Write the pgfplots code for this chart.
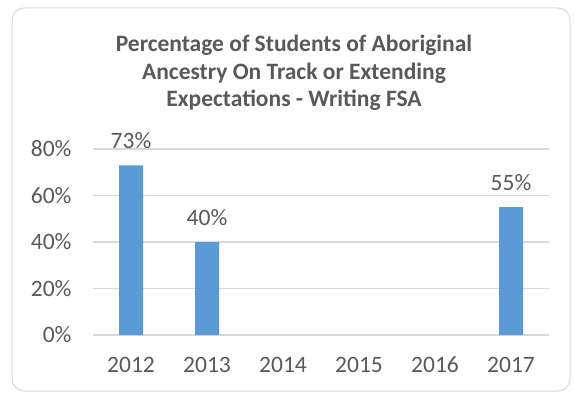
\documentclass[border=0pt]{standalone}
\usepackage{pgfplots}
\pgfplotsset{compat=1.18}
\usepackage{fontspec}
\setmainfont{Carlito}
\definecolor{barblue}{HTML}{5B9BD5}
\definecolor{txtgray}{HTML}{595959}
\definecolor{gridgray}{HTML}{D9D9D9}
\definecolor{boxgray}{HTML}{D9D9D9}
\begin{document}
\begin{tikzpicture}[x=1bp,y=1bp]
\useasboundingbox (0,0) rectangle (574,395);
\draw[boxgray, line width=1bp, rounded corners=12bp] (12,4) rectangle (570,387);
\node[align=center, text=txtgray, font=\fontsize{23.5bp}{27.5bp}\selectfont\bfseries] at (294,322) {Percentage of Students of Aboriginal\\Ancestry On Track or Extending\\Expectations - Writing FSA};
\begin{axis}[
  at={(93bp,60bp)}, anchor=south west,
  scale only axis, width=456bp, height=186bp,
  xmin=-0.5, xmax=5.5, ymin=0, ymax=80,
  ybar, bar width=24bp,
  axis line style={draw=none},
  ymajorgrids, grid style={gridgray, line width=1.2bp},
  major tick length=0,
  ytick={0,20,40,60,80},
  yticklabel={\pgfmathprintnumber{\tick}\%},
  xtick={0,1,2,3,4,5},
  xticklabels={2012,2013,2014,2015,2016,2017},
  /pgf/number format/assume math mode=true,
  tick label style={font=\fontsize{23.5bp}{27bp}\selectfont, text=txtgray},
  yticklabel style={xshift=-18bp},
  xticklabel style={anchor=base, yshift=-37bp},
  nodes near coords={\pgfmathprintnumber{\pgfplotspointmeta}\%},
  nodes near coords style={font=\fontsize{23.5bp}{27bp}\selectfont, text=txtgray, anchor=base, yshift=17bp},
  clip=false,
]
\addplot[fill=barblue, draw=none] coordinates {(0,73) (1,40) (5,55)};
\end{axis}
\end{tikzpicture}
\end{document}
